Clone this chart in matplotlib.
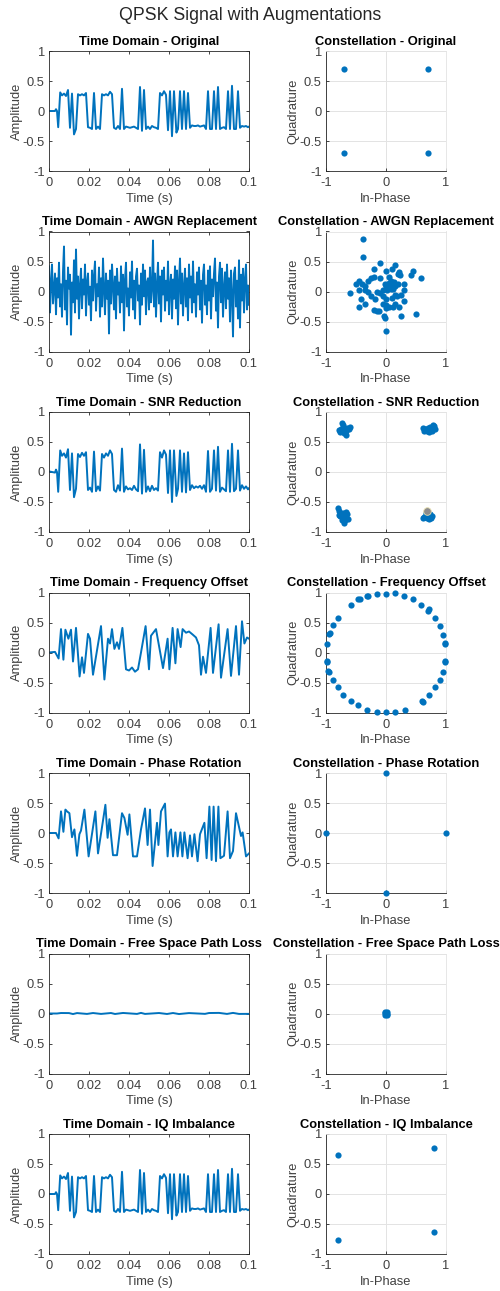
import numpy as np
import matplotlib.pyplot as plt

plt.rcParams['font.family'] = ['Liberation Sans', 'DejaVu Sans']

# ---------------- data ----------------
# time-domain waveforms: keypoints (time in ms, amplitude)
orig_t = [0, 3, 3.5, 4, 4.6, 5.6,
          6.5, 7.5, 8.5, 9.5, 10.5, 11.5, 12.5, 13.5, 14.5, 15.5,
          16.5, 17.5, 18.5, 19.5, 20.5, 21.5, 22.5, 23.5, 24.5, 25.5,
          26.5, 27.5, 28.5, 29.5, 30.5, 31.5, 32.5, 33.5, 34.5, 35.5,
          36.5, 37.5, 38.5, 39.5, 40.5, 41.5, 42.5, 43.5, 44.5, 45.5,
          46.5, 47.5, 48.5, 49.5, 50.5, 51.5, 52.5, 53.5, 54.5, 55.5,
          56.5, 57.5, 58.5, 59.5, 60.5, 61.5, 62.5,
          63.7,
          64.5, 65.5, 66.5, 67.5, 68.5, 69.5, 70.5, 71.5, 72.5, 73.5,
          74.5, 75.5, 76.5, 77.5, 78.5, 79.5, 80.5, 81.5, 82.5, 83.5,
          84.5, 85.5, 86.5, 87.5, 88.5, 89.5, 90.5, 91.5, 92.5, 93.5,
          94.5, 95.5, 96.5, 97.5, 98.5, 99.5,
          100]
orig_a = [0, 0, 0.03, 0, -0.27, 0.31,
          0.26, 0.29, 0.25, 0.35, -0.28, 0.29, -0.39, -0.30, 0.28, 0.26,
          0.28, 0.26, 0.30, -0.27, -0.28, -0.30, 0.30, -0.30, -0.26, -0.30,
          0.28, 0.26, 0.28, 0.26, 0.32, 0.28, -0.28, -0.30, -0.25, -0.30,
          0.37, -0.30, -0.26, -0.27, -0.28, -0.27, -0.26, -0.28, -0.30, 0.40,
          -0.33, 0.35, -0.30, -0.26, -0.30, -0.25, -0.27, -0.28, -0.30, 0.30,
          0.26, 0.33, 0.27, -0.32, 0.33, -0.42, 0.33,
          -0.36,
          -0.30, 0.33, -0.30, 0.33, -0.30, 0.30, -0.28, -0.24, -0.25, -0.25,
          -0.24, -0.26, -0.25, -0.24, -0.30, 0.33, -0.30, -0.30, 0.33, -0.30,
          0.40, -0.30, -0.28, -0.27, -0.30, 0.33, -0.30, 0.42, -0.30, -0.30,
          0.33, -0.28, -0.25, -0.26, -0.25, -0.27,
          -0.26]

snr_a = [0.01, -0.01, 0.04, 0.0, -0.33, 0.36,
         0.27, 0.31, 0.24, 0.38, -0.30, 0.31, -0.42, -0.28, 0.30, 0.25,
         0.32, 0.27, 0.33, -0.30, -0.26, -0.33, 0.34, -0.32, -0.24, -0.31,
         0.30, 0.24, 0.31, 0.27, 0.36, 0.30, -0.30, -0.33, -0.22, -0.31,
         0.39, -0.33, -0.24, -0.29, -0.27, -0.30, -0.23, -0.29, -0.32, 0.46,
         -0.36, 0.37, -0.33, -0.24, -0.32, -0.23, -0.30, -0.27, -0.31, 0.33,
         0.24, 0.36, 0.29, -0.35, 0.36, -0.50, 0.36,
         -0.40,
         -0.28, 0.36, -0.33, 0.31, -0.34, 0.33, -0.30, -0.22, -0.27, -0.24,
         -0.26, -0.23, -0.28, -0.22, -0.33, 0.35, -0.33, -0.28, 0.36, -0.31,
         0.42, -0.33, -0.26, -0.29, -0.32, 0.36, -0.33, 0.47, -0.32, -0.28,
         0.36, -0.31, -0.22, -0.28, -0.24, -0.29,
         -0.27]

# AWGN replacement, one value every 0.5 ms
awgn_a = [0.42, -0.35, 0.15, 0.45, -0.20, 0.05, 0.30, -0.38, 0.22, -0.10,
          0.48, -0.25, 0.12, -0.42, 0.33, 0.75, -0.30, 0.18, -0.55, 0.40,
          0.05, 0.28, -0.72, 0.15, -0.18, 0.52, -0.35, 0.70, -0.12, 0.25,
          -0.45, 0.10, 0.38, -0.28, 0.20, -0.05, 0.45, -0.40, 0.15, 0.30,
          -0.22, 0.08, -0.48, 0.35, -0.15, 0.25, 0.50, -0.32, 0.12, -0.08,
          0.40, -0.42, 0.22, -0.25, 0.55, 0.05, -0.38, 0.30, -0.12, 0.18,
          -0.70, 0.35, -0.20, 0.45, 0.10, -0.30, 0.25, -0.45, 0.38, -0.05,
          0.15, -0.35, 0.42, -0.18, 0.28, -0.65, 0.20, 0.48, -0.25, 0.05,
          -0.40, 0.32, -0.10, 0.50, -0.30, 0.18, -0.45, 0.25, 0.38, -0.15,
          0.10, -0.55, 0.30, -0.22, 0.45, -0.08, 0.35, -0.38, 0.15, 0.22,
          -0.30, 0.40, -0.18, 0.05, 0.85, -0.25, 0.30, -0.42, 0.12, 0.48,
          -0.20, 0.25, -0.50, 0.35, -0.05, 0.40, -0.32, 0.18, -0.15, 0.50,
          -0.38, 0.10, 0.28, -0.45, 0.20, -0.12, 0.42, -0.28, 0.35, -0.55,
          0.15, 0.55, -0.20, 0.30, -0.40, 0.08, 0.38, -0.25, 0.22, -0.48,
          0.45, -0.10, 0.25, -0.35, 0.50, -0.18, 0.12, -0.42, 0.32, -0.05,
          0.40, -0.30, 0.18, -0.52, 0.28, 0.45, -0.22, 0.10, -0.38, 0.35,
          -0.15, 0.42, -0.45, 0.20, -0.08, 0.30, 0.55, -0.32, 0.15, -0.60,
          0.25, 0.48, -0.18, 0.38, -0.42, 0.05, 0.32, -0.28, 0.45, -0.12,
          0.22, -0.50, 0.35, -0.05, -0.75, 0.30, 0.40, -0.25, 0.18, -0.45,
          0.52, -0.60, 0.28, -0.15, 0.38, -0.35, 0.20, 0.45, -0.30, 0.10,
          -0.22]

fo_t = [0, 3, 4.8, 6, 7.2, 8.2, 9.7, 11, 12, 13.5,
        15.3, 16.5, 17.5, 19.5, 20.5, 22, 26, 27.7, 29.5, 30.5,
        31.5, 32.7, 34, 35, 36.7, 38.5, 40, 41.5, 43, 44.5,
        46, 48.3, 50, 51, 53.5, 57, 59.3, 60.2, 61.8, 63.2,
        64.3, 65.8, 66.8, 68.5, 70, 71.8, 73.5, 75, 76, 77,
        78.5, 80.8, 82, 84.8, 86, 89.3, 91, 93.5, 95, 96.5,
        97.7, 99, 100]
fo_a = [0, 0.01, -0.10, 0.39, -0.12, 0.38, 0.23, 0.38, -0.15, 0.41,
        -0.40, -0.08, -0.34, 0.31, 0.23, -0.37, 0.44, -0.45, 0.23, 0.15,
        0.39, 0.06, 0.17, 0.06, 0.41, -0.28, -0.30, -0.25, -0.32, -0.28,
        0.0, 0.44, -0.28, 0.28, 0.39, -0.26, 0.23, -0.28, 0.41, -0.18,
        0.39, 0.09, 0.39, 0.33, 0.35, 0.30, 0.25, 0.12, -0.37, -0.07,
        -0.34, 0.41, -0.34, 0.47, -0.42, 0.39, -0.39, 0.44, -0.37, 0.52,
        0.15, 0.25, 0.23]

pr_t = [0, 3.5, 4.8, 6, 7.2, 8.2, 9, 10.2, 11.5, 12.7,
        14, 15.2, 16, 17.7, 19.8, 23.2, 24.5, 28.2, 29.3, 30.2,
        32, 34, 36.5, 37.7, 39.3, 40.2, 42, 44, 46, 48,
        49.3, 50.5, 51.8, 54, 54.7, 56, 58, 59.3, 60.2, 61,
        62, 63.2, 64.3, 65.7, 66.7, 67.7, 69.3, 70.5, 71.5, 72.7,
        74.3, 75.5, 77.7, 78.8, 80.2, 81.3, 82.3, 83.5, 84.7, 85.7,
        87.5, 89.3, 90.5, 92, 93.5, 96, 96.8, 98.5, 100]
pr_a = [0, 0, -0.09, 0.36, 0.02, 0.39, 0.36, 0.33, -0.07, 0.06,
        -0.38, -0.02, 0.04, 0.39, -0.39, 0.36, -0.34, 0.47, -0.08, 0.23,
        -0.37, -0.37, 0.33, 0.25, -0.03, 0.31, -0.39, -0.39, 0.06, 0.41,
        -0.20, 0.39, -0.55, 0.17, -0.20, 0.36, 0.49, -0.39, 0.01, 0.06,
        -0.39, 0.01, -0.39, 0.01, -0.39, 0.01, -0.42, -0.04, -0.39, -0.02,
        -0.47, -0.02, 0.17, -0.42, 0.44, -0.45, 0.44, -0.47, 0.44, -0.42,
        -0.38, 0.36, -0.42, -0.30, 0.33, -0.05, 0.01, -0.39, -0.34]

fspl_t = [0, 4, 6, 10, 12, 14, 19, 22, 26, 31, 33, 37, 44, 46,
          48, 55, 59, 62, 65, 70, 78, 80, 85, 89, 92, 95, 100]
fspl_a = [0, 0, 0.008, 0.007, -0.009, 0.007, -0.007, 0.008, -0.007, 0.008,
          -0.008, 0.009, -0.007, 0.010, -0.007, 0.008, -0.008, 0.008, -0.009,
          0.007, -0.006, 0.008, 0.010, -0.007, 0.010, -0.007, -0.006]

# constellations
orig_i = [-0.707, 0.707, -0.707, 0.707]
orig_q = [0.707, 0.707, -0.707, -0.707]

awgn_i = [-0.38, -0.38, -0.10, 0.15, -0.20, 0.00, 0.10, 0.45, 0.22, 0.42,
          0.58, 0.24, -0.25, -0.20, -0.10, 0.05, -0.45, -0.30, -0.50, -0.40,
          -0.35, 0.00, 0.05, 0.10, 0.15, 0.20, 0.30, 0.08, 0.12, 0.02,
          -0.60, -0.45, -0.35, -0.15, -0.10, -0.05, 0.30, 0.25, 0.15, -0.25,
          -0.18, -0.05, 0.00, 0.10, 0.30, 0.15, -0.42, -0.35, -0.05, 0.00,
          0.05, 0.12, 0.22, -0.45, -0.20, -0.15, -0.12, 0.00, 0.25, 0.50,
          -0.03, -0.02, 0.00, -0.30, 0.18, 0.08, 0.04, -0.02, 0.14, 0.20]
awgn_q = [0.88, 0.58, 0.47, 0.45, 0.38, 0.35, 0.38, 0.35, 0.33, 0.27,
          0.22, 0.27, 0.22, 0.25, 0.22, 0.25, 0.17, 0.17, 0.12, 0.12,
          0.10, 0.10, 0.15, 0.12, 0.10, 0.12, 0.12, 0.05, 0.05, 0.02,
          -0.02, 0.02, 0.02, 0.00, -0.02, 0.03, 0.02, -0.05, -0.05, -0.08,
          -0.12, -0.08, -0.12, -0.10, -0.15, -0.20, -0.13, -0.20, -0.20, -0.23,
          -0.25, -0.25, -0.25, -0.25, -0.30, -0.33, -0.33, -0.28, -0.40, -0.38,
          -0.40, -0.44, -0.65, 0.00, -0.08, 0.18, 0.08, 0.12, 0.16, 0.30]

snr_i = [-0.72, -0.75, -0.68, -0.65, -0.70, -0.73, -0.62, -0.67, -0.78, -0.71,
         -0.60, -0.69, -0.74, -0.66, -0.76,
         0.65, 0.70, 0.75, 0.80, 0.68, 0.72, 0.62, 0.78, 0.73, 0.66,
         0.82, 0.70, 0.76, 0.64, 0.74,
         -0.80, -0.78, -0.75, -0.72, -0.70, -0.68, -0.74, -0.65, -0.70, -0.76,
         -0.64, -0.72, -0.67, -0.78, -0.69,
         0.66, 0.70, 0.74, 0.68, 0.72, 0.64, 0.76, 0.70, 0.62, 0.73,
         0.67, 0.75]
snr_q = [0.78, 0.72, 0.70, 0.74, 0.65, 0.68, 0.72, 0.62, 0.70, 0.74,
         0.75, 0.67, 0.82, 0.69, 0.66,
         0.72, 0.70, 0.73, 0.76, 0.68, 0.66, 0.74, 0.78, 0.71, 0.70,
         0.72, 0.74, 0.69, 0.68, 0.75,
         -0.60, -0.65, -0.70, -0.68, -0.75, -0.72, -0.80, -0.70, -0.85, -0.74,
         -0.78, -0.78, -0.66, -0.72, -0.80,
         -0.72, -0.74, -0.70, -0.76, -0.78, -0.75, -0.73, -0.70, -0.76, -0.75,
         -0.69, -0.77]
snr_tip = (0.68, -0.65)

fo_i = [-0.30, -0.15, 0.00, 0.15, 0.30, 0.45, 0.58, 0.70, 0.72, 0.82,
        0.90, 0.95, 0.98, 0.99, 0.99, 0.98, 0.95, 0.90, 0.82, 0.72,
        0.60, 0.62, 0.32, 0.15, 0.00, -0.15, -0.32, -0.47, -0.58, -0.72,
        -0.80, -0.88, -0.95, -0.96, -0.98, -0.99, -0.99, -0.95, -0.93, -0.88,
        -0.80, -0.58, -0.46, -0.44, -0.32]
fo_q = [0.95, 0.98, 0.98, 0.99, 0.95, 0.90, 0.80, 0.70, 0.72, 0.58,
        0.45, 0.30, 0.15, 0.16, -0.14, -0.15, -0.32, -0.45, -0.57, -0.70,
        -0.80, -0.82, -0.95, -0.99, -0.99, -0.99, -0.95, -0.88, -0.80, -0.70,
        -0.58, -0.46, -0.32, -0.30, -0.15, -0.14, 0.15, 0.31, 0.32, 0.46,
        0.58, 0.80, 0.89, 0.90, 0.94]

pr_i = [0, 0, 1, -1]
pr_q = [1, -1, 0, 0]

fspl_i = [-0.02, 0.02, -0.02, 0.02, 0.0, -0.01, 0.01]
fspl_q = [0.02, 0.02, -0.02, -0.02, 0.0, 0.01, -0.01]

iq_i = [-0.80, 0.80, -0.80, 0.80]
iq_q = [0.65, 0.77, -0.77, -0.63]

names = ['Original', 'AWGN Replacement', 'SNR Reduction', 'Frequency Offset',
         'Phase Rotation', 'Free Space Path Loss', 'IQ Imbalance']
time_series = [(orig_t, orig_a), (None, awgn_a), (orig_t, snr_a), (fo_t, fo_a),
               (pr_t, pr_a), (fspl_t, fspl_a), (orig_t, orig_a)]
const_series = [(orig_i, orig_q), (awgn_i, awgn_q), (snr_i, snr_q), (fo_i, fo_q),
                (pr_i, pr_q), (fspl_i, fspl_q), (iq_i, iq_q)]

# ---------------- figure ----------------
W, H = 500, 1291
fig = plt.figure(figsize=(W / 100, H / 100), dpi=100)
fig.text(0.5, 1 - 15 / H, 'QPSK Signal with Augmentations', ha='center', va='center',
         fontsize=12.8, color='#262626')

blue = '#0072BD'
tick_col = '#404040'


def style(ax):
    for s in ax.spines.values():
        s.set_color('#262626')
        s.set_linewidth(0.6)
    ax.tick_params(direction='in', length=2.5, width=0.6, labelsize=9.3,
                   labelcolor=tick_col, color='#262626')
    ax.tick_params(axis='x', pad=4.5)
    ax.tick_params(axis='y', pad=3)


for r, name in enumerate(names):
    top = 51 + 180.5 * r
    y0 = 1 - (top + 120) / H

    # time domain
    ax = fig.add_axes([49 / W, y0, 200 / W, 120 / H])
    t, a = time_series[r]
    if t is None:
        t = np.linspace(0, 100, len(awgn_a))
    ax.plot(np.array(t) / 1000, a, color=blue, lw=1.4)
    ax.set_xlim(0, 0.1)
    ax.set_ylim(-1, 1)
    ax.set_xticks([0, 0.02, 0.04, 0.06, 0.08, 0.1])
    ax.set_xticklabels(['0', '0.02', '0.04', '0.06', '0.08', '0.1'])
    ax.set_yticks([-1, -0.5, 0, 0.5, 1])
    ax.set_yticklabels(['-1', '-0.5', '0', '0.5', '1'])
    style(ax)
    ax.tick_params(top=True, right=True)
    ax.set_title('Time Domain - ' + name, fontsize=9.3, fontweight='bold', pad=4.5)
    ax.set_xlabel('Time (s)', fontsize=9.3, color=tick_col, labelpad=2.5)
    ax.set_ylabel('Amplitude', fontsize=9.3, color=tick_col, labelpad=0)

    # constellation
    ax = fig.add_axes([326 / W, y0, 120 / W, 120 / H])
    ci, cq = const_series[r]
    ax.scatter(ci, cq, s=20, color=blue, linewidths=0, clip_on=False, zorder=3)
    if r == 2:
        ax.scatter([snr_tip[0]], [snr_tip[1]], s=30, color='#8c8c8c',
                   edgecolors='#e8e0b0', linewidths=0.6, clip_on=False, zorder=4)
    ax.set_xlim(-1, 1)
    ax.set_ylim(-1, 1)
    ax.set_xticks([-1, 0, 1])
    ax.set_xticklabels(['-1', '0', '1'])
    ax.set_yticks([-1, -0.5, 0, 0.5, 1])
    ax.set_yticklabels(['-1', '-0.5', '0', '0.5', '1'])
    ax.grid(True, color='#e3e3e3', lw=0.7)
    ax.set_axisbelow(True)
    style(ax)
    ax.spines['top'].set_color('#e3e3e3')
    ax.spines['right'].set_color('#e3e3e3')
    ax.set_title('Constellation - ' + name, fontsize=9.3, fontweight='bold', pad=4.5)
    ax.set_xlabel('In-Phase', fontsize=9.3, color=tick_col, labelpad=2.5)
    ax.set_ylabel('Quadrature', fontsize=9.3, color=tick_col, labelpad=0.5)

fig.savefig('out.png', dpi=100)
